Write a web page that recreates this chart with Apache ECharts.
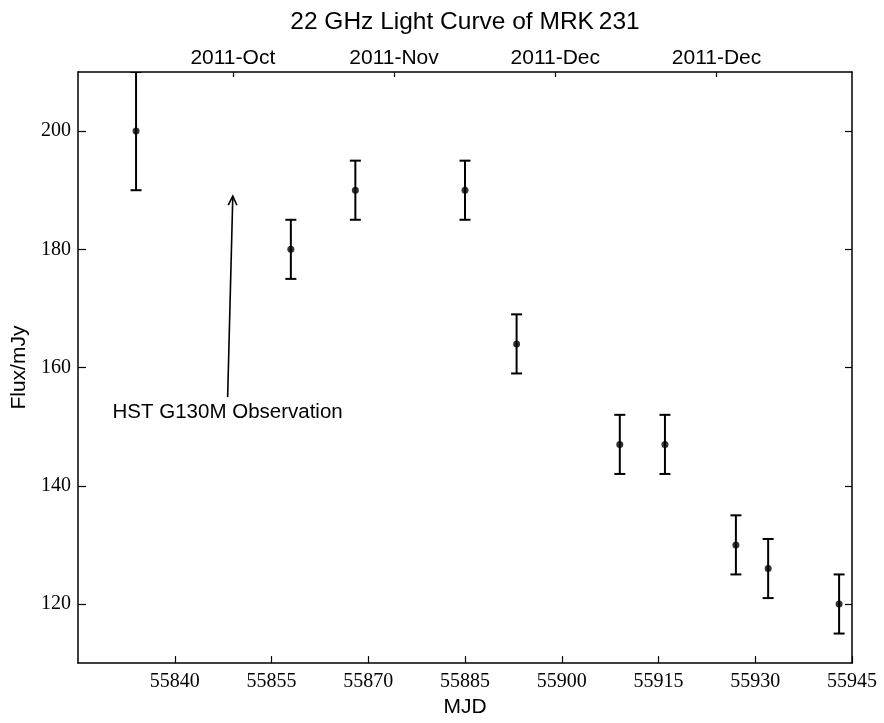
<!DOCTYPE html>
<html>
<head>
<meta charset="utf-8">
<script src="https://cdn.jsdelivr.net/npm/echarts@6/dist/echarts.min.js"></script>
<style>
html,body{margin:0;padding:0;background:#fff;}
#chart{width:884px;height:723px;}
</style>
</head>
<body>
<div id="chart"></div>
<script>
// ---- data ----
const mjd = [55834, 55858, 55868, 55885, 55893, 55909, 55916, 55927, 55932, 55943];
const flux = [200, 180, 190, 190, 164, 147, 147, 130, 126, 120];
const fluxErr = [10, 5, 5, 5, 5, 5, 5, 5, 5, 5];

const yTickValues = [120, 140, 160, 180, 200];
const topTickValues = [55849, 55874, 55899, 55924];
const topTickLabels = ['2011-Oct', '2011-Nov', '2011-Dec', '2011-Dec'];

const arrowFrom = [55848.2, 155];
const arrowTo = [55849, 189];
const annotationText = 'HST G130M Observation';

const titleText = '22 GHz Light Curve of MRK\u2009231';
const xName = 'MJD';
const yName = 'Flux/mJy';

// ---- chart ----
const chart = echarts.init(document.getElementById('chart'), null, {renderer: 'canvas'});
const SANS = 'Liberation Sans';
const SERIF = 'Liberation Serif';
const axisLineStyle = {color: '#000', width: 1.5};

const errData = mjd.map((m, i) => [m, flux[i] - fluxErr[i], flux[i] + fluxErr[i]]);
const ptData = mjd.map((m, i) => [m, flux[i]]);

const option = {
  animation: false,
  backgroundColor: '#fff',
  graphic: [{
    type: 'text', x: 465, y: 22,
    style: {text: titleText, font: '24.5px "' + SANS + '"', fill: '#000', textAlign: 'center', textVerticalAlign: 'middle'}
  }],
  grid: {left: 78, right: 32, top: 72, bottom: 51, containLabel: false},
  xAxis: [{
    type: 'value', position: 'bottom', min: 55825, max: 55945, interval: 15,
    name: xName, nameLocation: 'middle', nameGap: 27,
    nameTextStyle: {fontFamily: SANS, fontSize: 21, color: '#000'},
    axisLine: {show: true, onZero: false, lineStyle: axisLineStyle},
    axisTick: {show: true, inside: true, length: 7, lineStyle: {color: '#000', width: 1.2}},
    axisLabel: {show: true, showMinLabel: false, margin: 9, fontFamily: SERIF, fontSize: 20, color: '#000',
      formatter: (v) => String(v)},
    splitLine: {show: false}
  }, {
    type: 'value', position: 'top', min: 55825, max: 55945,
    axisLine: {show: true, onZero: false, lineStyle: axisLineStyle},
    axisTick: {show: true, inside: true, length: 5, customValues: topTickValues, lineStyle: {color: '#000', width: 1.2}},
    axisLabel: {show: true, customValues: topTickValues, margin: 3, fontFamily: SANS, fontSize: 21, color: '#000',
      formatter: (v) => topTickLabels[topTickValues.indexOf(v)] || ''},
    splitLine: {show: false}
  }],
  yAxis: [{
    type: 'value', position: 'left', min: 110, max: 210,
    name: yName, nameLocation: 'middle', nameGap: 47, nameRotate: 90,
    nameTextStyle: {fontFamily: SANS, fontSize: 21, color: '#000'},
    axisLine: {show: true, onZero: false, lineStyle: axisLineStyle},
    axisTick: {show: true, inside: true, length: 8, customValues: yTickValues, lineStyle: {color: '#000', width: 1.2}},
    axisLabel: {show: true, customValues: yTickValues, margin: 7, fontFamily: SERIF, fontSize: 20, color: '#000'},
    splitLine: {show: false}
  }, {
    type: 'value', position: 'right', min: 110, max: 210,
    axisLine: {show: true, onZero: false, lineStyle: axisLineStyle},
    axisTick: {show: true, inside: true, length: 7, customValues: yTickValues, lineStyle: {color: '#000', width: 1.2}},
    axisLabel: {show: false},
    splitLine: {show: false}
  }],
  series: [{
    type: 'custom',
    name: 'errors',
    xAxisIndex: 0, yAxisIndex: 0,
    data: errData,
    encode: {x: 0, y: [1, 2]},
    clip: true,
    renderItem: function (params, api) {
      const x = api.value(0), lo = api.value(1), hi = api.value(2);
      const pLo = api.coord([x, lo]);
      const pHi = api.coord([x, hi]);
      const cap = 5.5;
      const st = {stroke: '#000', lineWidth: 2};
      return {
        type: 'group',
        children: [
          {type: 'line', shape: {x1: pLo[0], y1: pLo[1], x2: pHi[0], y2: pHi[1]}, style: st},
          {type: 'line', shape: {x1: pLo[0] - cap, y1: pLo[1], x2: pLo[0] + cap, y2: pLo[1]}, style: st},
          {type: 'line', shape: {x1: pHi[0] - cap, y1: pHi[1], x2: pHi[0] + cap, y2: pHi[1]}, style: st}
        ]
      };
    },
    z: 2
  }, {
    type: 'scatter',
    name: 'flux',
    xAxisIndex: 0, yAxisIndex: 0,
    data: ptData,
    symbol: 'circle',
    symbolSize: 7,
    itemStyle: {color: '#000'},
    z: 3
  }, {
    type: 'custom',
    name: 'annotation',
    xAxisIndex: 0, yAxisIndex: 0,
    data: [[arrowFrom[0], arrowFrom[1], arrowTo[0], arrowTo[1]]],
    encode: {x: [0, 2], y: [1, 3]},
    renderItem: function (params, api) {
      const p0 = api.coord([api.value(0), api.value(1)]);
      const p1 = api.coord([api.value(2), api.value(3)]);
      const ang = Math.atan2(p1[1] - p0[1], p1[0] - p0[0]);
      const hl = 10, ha = 0.45;
      const a1 = ang + Math.PI - ha, a2 = ang + Math.PI + ha;
      const st = {stroke: '#000', lineWidth: 1.6};
      return {
        type: 'group',
        children: [
          {type: 'line', shape: {x1: p0[0], y1: p0[1], x2: p1[0], y2: p1[1]}, style: st},
          {type: 'polyline', shape: {points: [
            [p1[0] + hl * Math.cos(a1), p1[1] + hl * Math.sin(a1)],
            [p1[0], p1[1]],
            [p1[0] + hl * Math.cos(a2), p1[1] + hl * Math.sin(a2)]
          ]}, style: Object.assign({fill: null}, st)},
          {type: 'text', x: p0[0], y: p0[1] + 5, style: {
            text: annotationText, font: '20.5px "' + SANS + '"', fill: '#000',
            textAlign: 'center', textVerticalAlign: 'top'
          }}
        ]
      };
    },
    z: 4
  }]
};
chart.setOption(option);
</script>
</body>
</html>
